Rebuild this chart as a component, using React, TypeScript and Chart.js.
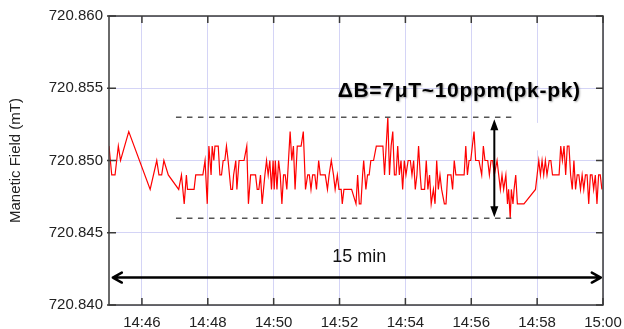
import { useEffect, useRef } from "react";
import { Chart, registerables } from "chart.js";

Chart.register(...registerables);

// seconds after 14:45:00
const sampleSeconds = [
  0, 5, 11, 17, 21, 36, 75, 87, 91, 96, 100, 108, 127, 132, 137, 141, 143, 155, 158, 171,
  175, 179, 182, 186, 188, 191, 193, 199, 202, 205, 208, 211, 214, 217, 222, 225, 227, 231, 233, 237,
  241, 246, 251, 254, 258, 263, 267, 270, 273, 276, 279, 284, 287, 290, 293, 296, 299, 301, 303, 306,
  309, 312, 315, 318, 321, 324, 327, 330, 333, 336, 339, 343, 346, 350, 354, 358, 362, 365, 368, 371,
  375, 378, 382, 385, 390, 394, 398, 401, 405, 409, 412, 416, 419, 423, 425, 428, 433, 442, 450, 453,
  456, 459, 462, 464, 468, 471, 474, 477, 482, 487, 493, 499, 502, 505, 508, 511, 514, 517, 520, 523,
  526, 529, 532, 535, 538, 541, 545, 549, 552, 555, 558, 561, 564, 567, 569, 572, 575, 578, 581, 584,
  587, 591, 594, 597, 600, 603, 606, 611, 614, 617, 620, 623, 626, 629, 632, 635, 641, 647, 650, 653,
  656, 659, 662, 665, 668, 674, 679, 682, 685, 690, 693, 696, 699, 702, 707, 710, 713, 716, 719, 723,
  726, 728, 731, 733, 736, 738, 741, 744, 747, 756, 777, 780, 783, 786, 789, 792, 795, 798, 802, 805,
  808, 814, 820, 823, 826, 829, 832, 835, 838, 841, 844, 847, 850, 853, 856, 859, 862, 865, 868, 871,
  874, 877, 880, 883, 886, 889, 892, 895, 898,
];

const fieldMT = [
  720.851, 720.849, 720.849, 720.851, 720.85, 720.852, 720.848, 720.85, 720.849, 720.849, 720.85, 720.849, 720.848, 720.849, 720.847, 720.849, 720.848, 720.848, 720.849, 720.849,
  720.85, 720.847, 720.851, 720.849, 720.851, 720.85, 720.851, 720.851, 720.849, 720.849, 720.85, 720.85, 720.851, 720.85, 720.848, 720.848, 720.849, 720.85, 720.848, 720.85,
  720.85, 720.85, 720.851, 720.847, 720.849, 720.849, 720.849, 720.848, 720.848, 720.849, 720.847, 720.849, 720.85, 720.849, 720.85, 720.848, 720.85, 720.848, 720.85, 720.848,
  720.85, 720.849, 720.847, 720.849, 720.849, 720.848, 720.85, 720.852, 720.85, 720.851, 720.848, 720.851, 720.851, 720.851, 720.852, 720.848, 720.849, 720.849, 720.848, 720.849,
  720.849, 720.848, 720.85, 720.849, 720.849, 720.849, 720.848, 720.849, 720.85, 720.849, 720.848, 720.849, 720.848, 720.848, 720.847, 720.848, 720.848, 720.848, 720.847, 720.849,
  720.847, 720.847, 720.849, 720.85, 720.848, 720.849, 720.849, 720.85, 720.85, 720.851, 720.851, 720.851, 720.849, 720.851, 720.853, 720.849, 720.851, 720.852, 720.849, 720.849,
  720.851, 720.849, 720.85, 720.848, 720.85, 720.849, 720.85, 720.85, 720.849, 720.85, 720.848, 720.849, 720.851, 720.849, 720.848, 720.848, 720.848, 720.85, 720.848, 720.849,
  720.847, 720.848, 720.847, 720.85, 720.848, 720.849, 720.848, 720.847, 720.847, 720.849, 720.849, 720.849, 720.848, 720.85, 720.849, 720.849, 720.849, 720.849, 720.851, 720.849,
  720.85, 720.85, 720.851, 720.852, 720.85, 720.85, 720.849, 720.851, 720.85, 720.85, 720.849, 720.85, 720.85, 720.849, 720.85, 720.849, 720.848, 720.849, 720.848, 720.849,
  720.847, 720.848, 720.846, 720.848, 720.847, 720.848, 720.849, 720.847, 720.847, 720.847, 720.848, 720.849, 720.85, 720.849, 720.85, 720.849, 720.85, 720.849, 720.85, 720.85,
  720.849, 720.849, 720.849, 720.851, 720.85, 720.851, 720.849, 720.851, 720.851, 720.849, 720.848, 720.85, 720.848, 720.849, 720.849, 720.848, 720.849, 720.848, 720.849, 720.849,
  720.847, 720.849, 720.849, 720.848, 720.849, 720.847, 720.849, 720.849, 720.848,
];

const xTickSeconds = [60, 180, 300, 420, 540, 660, 780, 900];
const xTickLabels = ["14:46", "14:48", "14:50", "14:52", "14:54", "14:56", "14:58", "15:00"];
const yTicks = [720.84, 720.845, 720.85, 720.855, 720.86];
const yTitle = "Manetic Field (mT)";
const deltaText = "ΔB=7μT~10ppm(pk-pk)";
const spanText = "15 min";

// annotation anchors (data units)
const bandUpper = 720.853;
const bandLower = 720.846;
const bandStartSec = 122;
const bandEndSec = 733;
const deltaArrowSec = 702;
const spanArrowValue = 720.8419;
const spanArrowStartSec = 7;
const spanArrowEndSec = 896;
const deltaTextSec = 638;
const deltaTextValue = 720.85438;
const spanTextSec = 456;
const spanTextValue = 720.843;

const FONT = "'Liberation Sans', Arial, sans-serif";
const GRID = "rgba(205,205,245,0.85)";

const overlay = {
  id: "overlay",
  beforeDatasetsDraw(chart: any) {
    const { ctx, scales } = chart;
    const x = scales.x, y = scales.y;
    ctx.save();
    ctx.fillStyle = "#ffffff";
    const x0 = x.getPixelForValue(706), x1 = x.getPixelForValue(784);
    const y0 = y.getPixelForValue(720.8526), y1 = y.getPixelForValue(720.8507);
    ctx.fillRect(x0, y0, x1 - x0, y1 - y0);
    ctx.restore();
  },
  afterDraw(chart: any) {
    const { ctx, chartArea: a, scales } = chart;
    const x = scales.x, y = scales.y;
    ctx.save();
    // frame
    ctx.strokeStyle = "#3a3a3a";
    ctx.lineWidth = 1.5;
    ctx.strokeRect(a.left, a.top, a.right - a.left, a.bottom - a.top);
    // inward ticks
    ctx.lineWidth = 1.5;
    ctx.beginPath();
    for (const s of xTickSeconds) {
      const px = x.getPixelForValue(s);
      ctx.moveTo(px, a.bottom);
      ctx.lineTo(px, a.bottom - 7);
      ctx.moveTo(px, a.top);
      ctx.lineTo(px, a.top + 7);
    }
    for (const v of yTicks) {
      const py = y.getPixelForValue(v);
      ctx.moveTo(a.left - 2, py);
      ctx.lineTo(a.left + 7, py);
      ctx.moveTo(a.right, py);
      ctx.lineTo(a.right - 7, py);
    }
    ctx.stroke();

    // dashed band
    ctx.strokeStyle = "#555555";
    ctx.lineWidth = 1.5;
    ctx.setLineDash([5.5, 5.5]);
    ctx.beginPath();
    const bx0 = x.getPixelForValue(bandStartSec), bx1 = x.getPixelForValue(bandEndSec);
    const yu = y.getPixelForValue(bandUpper), yl = y.getPixelForValue(bandLower);
    ctx.moveTo(bx0, yu); ctx.lineTo(bx1, yu);
    ctx.moveTo(bx0, yl); ctx.lineTo(bx1, yl);
    ctx.stroke();
    ctx.setLineDash([]);

    // vertical double arrow (filled heads)
    const vx = x.getPixelForValue(deltaArrowSec);
    const vt = yu + 2, vb = yl - 1;
    ctx.strokeStyle = "#000";
    ctx.fillStyle = "#000";
    ctx.lineWidth = 2;
    ctx.beginPath();
    ctx.moveTo(vx, vt + 8); ctx.lineTo(vx, vb - 8);
    ctx.stroke();
    ctx.beginPath();
    ctx.moveTo(vx, vt); ctx.lineTo(vx - 4, vt + 11); ctx.lineTo(vx + 4, vt + 11); ctx.closePath();
    ctx.moveTo(vx, vb); ctx.lineTo(vx - 4, vb - 11); ctx.lineTo(vx + 4, vb - 11); ctx.closePath();
    ctx.fill();

    // horizontal double arrow (open heads)
    const hy = y.getPixelForValue(spanArrowValue);
    const hx0 = x.getPixelForValue(spanArrowStartSec), hx1 = x.getPixelForValue(spanArrowEndSec);
    ctx.lineWidth = 2.5;
    ctx.lineCap = "round";
    ctx.lineJoin = "round";
    ctx.beginPath();
    ctx.moveTo(hx0, hy); ctx.lineTo(hx1, hy);
    ctx.moveTo(hx0 + 9, hy - 5); ctx.lineTo(hx0, hy); ctx.lineTo(hx0 + 9, hy + 5);
    ctx.moveTo(hx1 - 9, hy - 5); ctx.lineTo(hx1, hy); ctx.lineTo(hx1 - 9, hy + 5);
    ctx.stroke();

    // texts
    ctx.textAlign = "center";
    ctx.textBaseline = "alphabetic";
    ctx.fillStyle = "#111";
    ctx.font = `18px ${FONT}`;
    ctx.fillText(spanText, x.getPixelForValue(spanTextSec), y.getPixelForValue(spanTextValue));

    ctx.font = `bold 21px ${FONT}`;
    (ctx as any).letterSpacing = "0.7px";
    ctx.shadowColor = "rgba(0,0,0,0.35)";
    ctx.shadowBlur = 2;
    ctx.shadowOffsetX = 1;
    ctx.shadowOffsetY = 1;
    ctx.fillStyle = "#000";
    ctx.fillText(deltaText, x.getPixelForValue(deltaTextSec), y.getPixelForValue(deltaTextValue));
    ctx.restore();
  },
};

export default function App() {
  const ref = useRef<HTMLCanvasElement | null>(null);
  useEffect(() => {
    document.body.style.margin = "0";
    const canvas = ref.current!;
    const chart = new Chart(canvas, {
      type: "line",
      data: {
        datasets: [
          {
            data: sampleSeconds.map((s, i) => ({ x: s, y: fieldMT[i] })),
            borderColor: "#ff0000",
            borderWidth: 1.2,
            pointRadius: 0,
            fill: false,
            tension: 0,
          },
        ],
      },
      options: {
        responsive: false,
        animation: false,
        layout: { padding: { left: 0, right: 21, top: 16, bottom: 0 } },
        plugins: { legend: { display: false }, tooltip: { enabled: false } },
        scales: {
          x: {
            type: "linear",
            min: 0,
            max: 900,
            afterBuildTicks: (s: any) => {
              s.ticks = xTickSeconds.map((v) => ({ value: v }));
            },
            afterFit: (s: any) => {
              s.height = 24;
              s.paddingLeft = 0;
              s.paddingRight = 0;
            },
            grid: { color: GRID, lineWidth: 1, drawTicks: false },
            border: { display: false },
            ticks: {
              autoSkip: false,
              maxRotation: 0,
              padding: 9,
              color: "#222",
              font: { family: FONT, size: 15 },
              callback: (v: any) => {
                const i = xTickSeconds.indexOf(Number(v));
                return i >= 0 ? xTickLabels[i] : "";
              },
            },
          },
          y: {
            type: "linear",
            min: 720.84,
            max: 720.86,
            afterBuildTicks: (s: any) => {
              s.ticks = yTicks.map((v) => ({ value: v }));
            },
            afterFit: (s: any) => {
              s.width = 109;
              s.paddingTop = 0;
              s.paddingBottom = 0;
            },
            grid: { color: GRID, lineWidth: 1, drawTicks: false },
            border: { display: false },
            ticks: {
              padding: 6,
              color: "#222",
              font: { family: FONT, size: 15 },
              callback: (v: any) => Number(v).toFixed(3),
            },
            title: {
              display: true,
              text: yTitle,
              color: "#222",
              font: { family: FONT, size: 15 },
              padding: { top: 7, bottom: 0 },
            },
          },
        },
      },
      plugins: [overlay],
    } as any);
    return () => chart.destroy();
  }, []);
  return <canvas ref={ref} width={624} height={329} style={{ display: "block", width: 624, height: 329 }} />;
}
